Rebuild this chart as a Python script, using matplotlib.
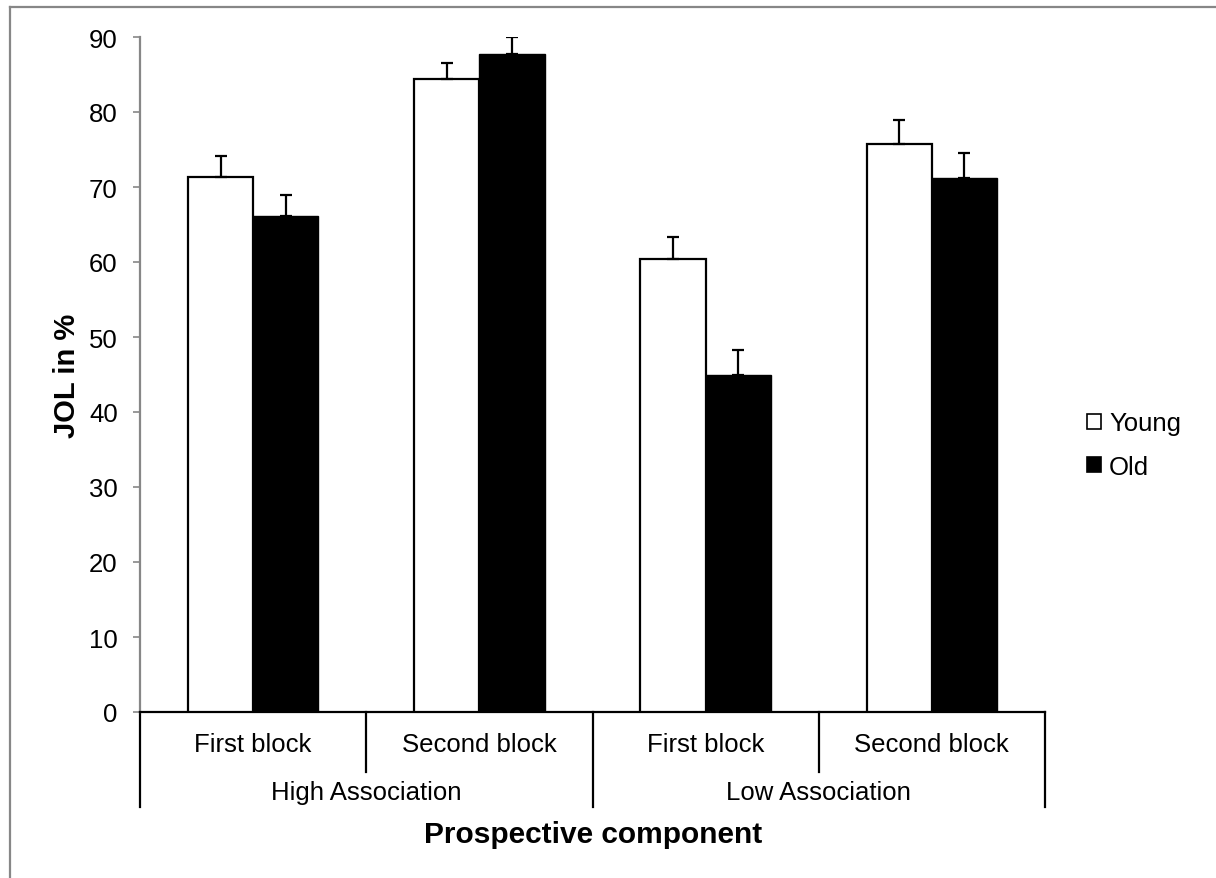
import matplotlib
matplotlib.use("Agg")
import matplotlib.pyplot as plt
from matplotlib.lines import Line2D
from matplotlib.patches import Patch
import numpy as np

plt.rcParams['font.family'] = ['Liberation Sans', 'DejaVu Sans']

blocks = ["First block", "Second block", "First block", "Second block"]
groups = ["High Association", "Low Association"]
young = [71.4, 84.4, 60.4, 75.7]
young_err = [2.7, 2.1, 3.0, 3.2]
old = [66.1, 87.8, 45.0, 71.2]
old_err = [2.8, 2.2, 3.3, 3.4]
yticks = [0, 10, 20, 30, 40, 50, 60, 70, 80, 90]

W, H = 1216, 879
fig = plt.figure(figsize=(W / 100, H / 100), dpi=100)
fig.patch.set_facecolor('white')

# outer frame (left and top visible)
gray = '#878787'
fig.add_artist(Line2D([10 / W, 10 / W], [0, 1 - 8 / H], color=gray, lw=1.6, transform=fig.transFigure))
fig.add_artist(Line2D([10 / W, 1], [1 - 8 / H, 1 - 8 / H], color=gray, lw=1.6, transform=fig.transFigure))

ax = fig.add_axes([140 / W, 166 / H, 905 / W, 675 / H])
x = np.arange(len(blocks))
bw = 0.288
ax.bar(x - bw / 2, young, bw, color='white', edgecolor='black', linewidth=1.6, zorder=3)
ax.bar(x + bw / 2, old, bw, color='black', edgecolor='black', linewidth=1.0, zorder=3)
ax.errorbar(x - bw / 2, young, yerr=[np.zeros(len(young)), young_err], fmt='none',
            ecolor='black', elinewidth=1.6, capsize=4, capthick=1.6, zorder=4)
ax.errorbar(x + bw / 2, old, yerr=[np.zeros(len(old)), old_err], fmt='none',
            ecolor='black', elinewidth=1.6, capsize=4, capthick=1.6, zorder=4)

ax.set_xlim(-0.5, len(blocks) - 0.5)
ax.set_ylim(0, 90)
ax.set_yticks(yticks)
ax.tick_params(axis='y', direction='out', length=5, width=1.2, color=gray,
               labelsize=18.5, pad=11, labelcolor='black')
ax.set_xticks([])
for s in ['top', 'right']:
    ax.spines[s].set_visible(False)
ax.spines['left'].set_color(gray)
ax.spines['left'].set_linewidth(1.6)
ax.spines['bottom'].set_color('black')
ax.spines['bottom'].set_linewidth(1.6)

ax.set_ylabel("JOL in %", fontsize=21, fontweight='bold', labelpad=6)

# hierarchical category axis
trans = ax.get_xaxis_transform()
y_short = -(773 - 713) / 675
y_long = -(808 - 713) / 675
for xv in [-0.5, 1.5, 3.5]:
    ax.plot([xv, xv], [0, y_long], color='black', lw=1.6, transform=trans, clip_on=False)
for xv in [0.5, 2.5]:
    ax.plot([xv, xv], [0, y_short], color='black', lw=1.6, transform=trans, clip_on=False)
for i, b in enumerate(blocks):
    ax.text(x[i], -(745 - 713) / 675, b, transform=trans, ha='center', va='center', fontsize=18.5)
for g, gname in enumerate(groups):
    ax.text(0.5 + 2 * g, -(793 - 713) / 675, gname, transform=trans, ha='center', va='center', fontsize=18.5)

fig.text(593 / W, 1 - 835 / H, "Prospective component", ha='center', va='center',
         fontsize=21.5, fontweight='bold')

handles = [Patch(facecolor='white', edgecolor='black', linewidth=1.2),
           Patch(facecolor='black', edgecolor='black', linewidth=1.2)]
fig.legend(handles, ["Young", "Old"], loc='center left', bbox_to_anchor=(1064 / W, 1 - 446 / H),
           frameon=False, fontsize=18.5, handlelength=0.55, handleheight=0.55,
           handletextpad=0.3, labelspacing=0.75)

fig.savefig("out.png", dpi=100, facecolor='white')
